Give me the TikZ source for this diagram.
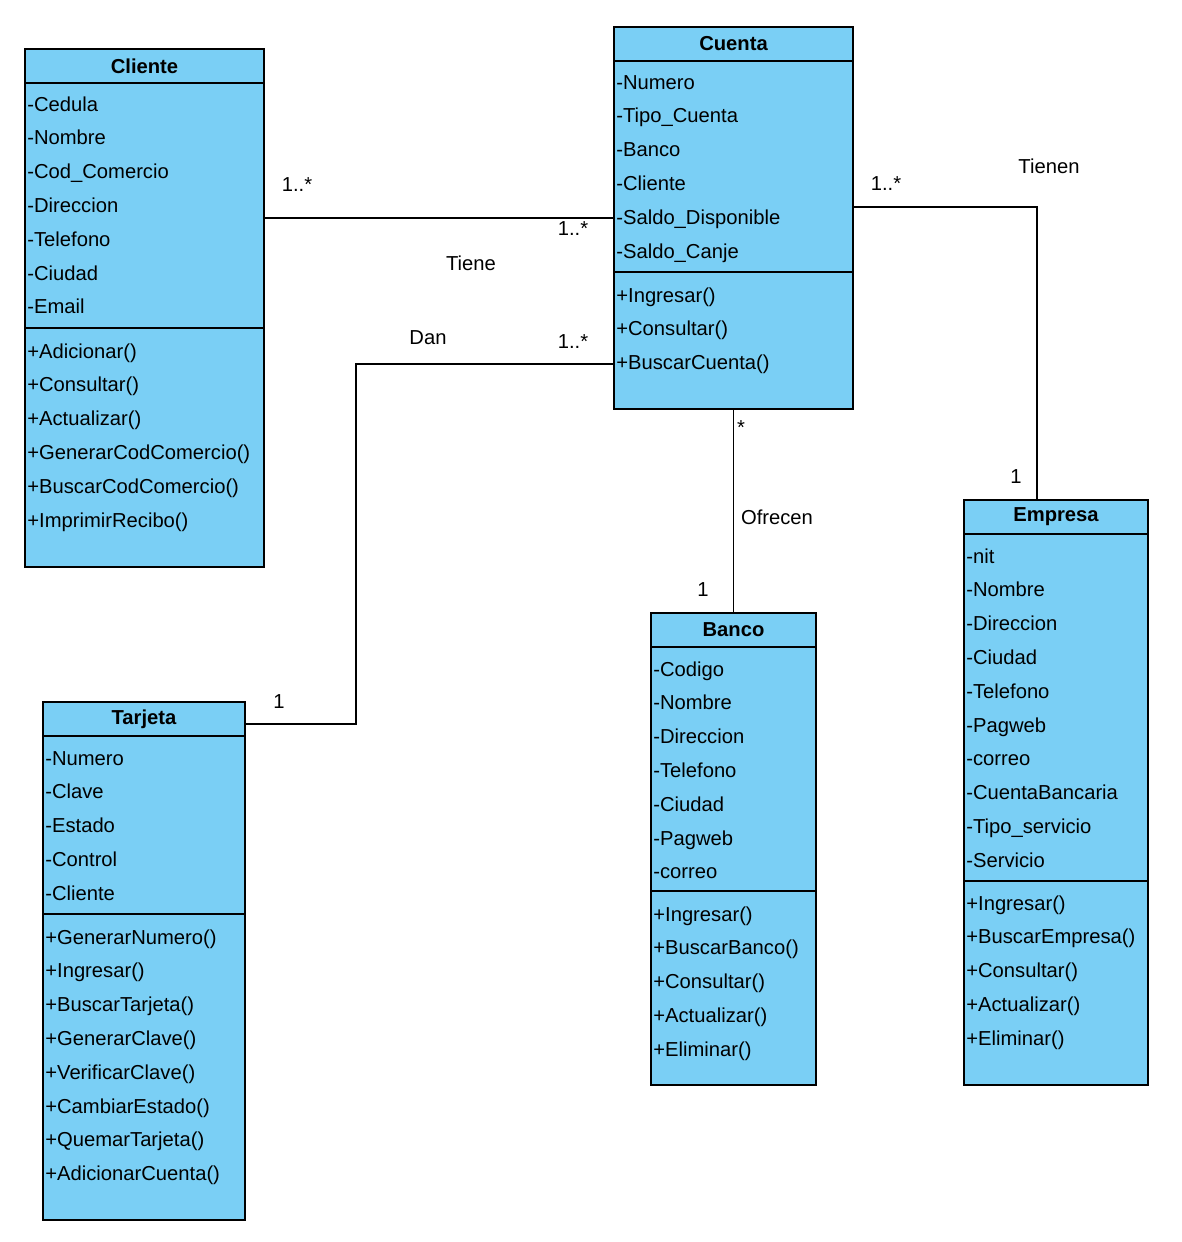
\documentclass[tikz,border=0pt]{standalone}
\usepackage{fontspec}
\setmainfont{Liberation Sans}
\usetikzlibrary{fit}
\definecolor{umlblue}{RGB}{122,207,245}

\begin{document}
\begin{tikzpicture}[x=0.02cm, y=-0.02cm, every node/.style={font=\fontsize{11.5}{13}\selectfont}, classbox/.style={draw, line width=1pt, fill=umlblue, inner sep=0pt}, classname/.style={font=\fontsize{11.5}{13}\selectfont\bfseries}, member/.style={anchor=west, inner sep=0pt, text height=9.6pt, text depth=1.6pt}, sep/.style={line width=1pt}, assoc/.style={line width=0.8pt}, mult/.style={inner sep=1pt}]
\useasboundingbox (0,0) rectangle (1182,1242);

% Cliente
\node[classbox, fit={(25,49) (264,567)}] (cliente) {};
\node[classname] (cliente-t) at (cliente.north |- 0,66) {Cliente};
\draw[sep] (cliente.west |- 0,83) -- (cliente.east |- 0,83);
\draw[sep] (cliente.west |- 0,328) -- (cliente.east |- 0,328);
\foreach \t [count=\i from 0] in {-Cedula,-Nombre,-Cod\_Comercio,-Direccion,-Telefono,-Ciudad,-Email}
  \node[member] (cliente-a\i) at (27,104+33.8*\i) {\t};
\foreach \t [count=\i from 0] in {+Adicionar(),+Consultar(),+Actualizar(),+GenerarCodComercio(),+BuscarCodComercio(),+ImprimirRecibo()}
  \node[member] (cliente-m\i) at (27,351+33.8*\i) {\t};

% Cuenta
\node[classbox, fit={(614,27) (853,409)}] (cuenta) {};
\node[classname] (cuenta-t) at (cuenta.north |- 0,44) {Cuenta};
\draw[sep] (cuenta.west |- 0,61) -- (cuenta.east |- 0,61);
\draw[sep] (cuenta.west |- 0,272) -- (cuenta.east |- 0,272);
\foreach \t [count=\i from 0] in {-Numero,-Tipo\_Cuenta,-Banco,-Cliente,-Saldo\_Disponible,-Saldo\_Canje}
  \node[member] (cuenta-a\i) at (616,82+33.8*\i) {\t};
\foreach \t [count=\i from 0] in {+Ingresar(),+Consultar(),+BuscarCuenta()}
  \node[member] (cuenta-m\i) at (616,295+33.8*\i) {\t};

% Tarjeta
\node[classbox, fit={(43,702) (245,1220)}] (tarjeta) {};
\node[classname] (tarjeta-t) at (tarjeta.north |- 0,719) {Tarjeta};
\draw[sep] (tarjeta.west |- 0,736) -- (tarjeta.east |- 0,736);
\draw[sep] (tarjeta.west |- 0,914) -- (tarjeta.east |- 0,914);
\foreach \t [count=\i from 0] in {-Numero,-Clave,-Estado,-Control,-Cliente}
  \node[member] (tarjeta-a\i) at (45,758+33.8*\i) {\t};
\foreach \t [count=\i from 0] in {+GenerarNumero(),+Ingresar(),+BuscarTarjeta(),+GenerarClave(),+VerificarClave(),+CambiarEstado(),+QuemarTarjeta(),+AdicionarCuenta()}
  \node[member] (tarjeta-m\i) at (45,937+33.8*\i) {\t};

% Banco
\node[classbox, fit={(651,613) (816,1085)}] (banco) {};
\node[classname] (banco-t) at (banco.north |- 0,630) {Banco};
\draw[sep] (banco.west |- 0,647) -- (banco.east |- 0,647);
\draw[sep] (banco.west |- 0,891) -- (banco.east |- 0,891);
\foreach \t [count=\i from 0] in {-Codigo,-Nombre,-Direccion,-Telefono,-Ciudad,-Pagweb,-correo}
  \node[member] (banco-a\i) at (653,669+33.8*\i) {\t};
\foreach \t [count=\i from 0] in {+Ingresar(),+BuscarBanco(),+Consultar(),+Actualizar(),+Eliminar()}
  \node[member] (banco-m\i) at (653,914+33.8*\i) {\t};

% Empresa
\node[classbox, fit={(964,500) (1148,1085)}] (empresa) {};
\node[classname] (empresa-t) at (empresa.north |- 0,517) {Empresa};
\draw[sep] (empresa.west |- 0,534) -- (empresa.east |- 0,534);
\draw[sep] (empresa.west |- 0,881) -- (empresa.east |- 0,881);
\foreach \t [count=\i from 0] in {-nit,-Nombre,-Direccion,-Ciudad,-Telefono,-Pagweb,-correo,-CuentaBancaria,-Tipo\_servicio,-Servicio}
  \node[member] (empresa-a\i) at (966,556+33.8*\i) {\t};
\foreach \t [count=\i from 0] in {+Ingresar(),+BuscarEmpresa(),+Consultar(),+Actualizar(),+Eliminar()}
  \node[member] (empresa-m\i) at (966,903+33.8*\i) {\t};

% associations
\draw[assoc] (cliente.east |- 0,218) -- (cuenta.west |- 0,218);
\node[mult] (tiene-m1) at (297,185) {1..*};
\node[mult] (tiene-m2) at (573,229) {1..*};
\node (tiene) at (471,263) {Tiene};

\draw[assoc] (cuenta.west |- 0,364) -| (356,544) |- (tarjeta.east |- 0,724);
\node (dan) at (428,338) {Dan};
\node[mult] (dan-m1) at (573,342) {1..*};
\node[mult] (dan-m2) at (279,702) {1};

\draw[assoc] (cuenta.east |- 0,207) -| (1037,0 |- empresa.north);
\node[mult] (tienen-m1) at (886,184) {1..*};
\node (tienen) at (1049,166) {Tienen};
\node[mult] (tienen-m2) at (1016,477) {1};

\draw[assoc] (cuenta.south) -- (banco.north);
\node[mult] (ofrecen-m1) at (741,428) {*};
\node (ofrecen) at (777,517) {Ofrecen};
\node[mult] (ofrecen-m2) at (703,590) {1};
\end{tikzpicture}
\end{document}
